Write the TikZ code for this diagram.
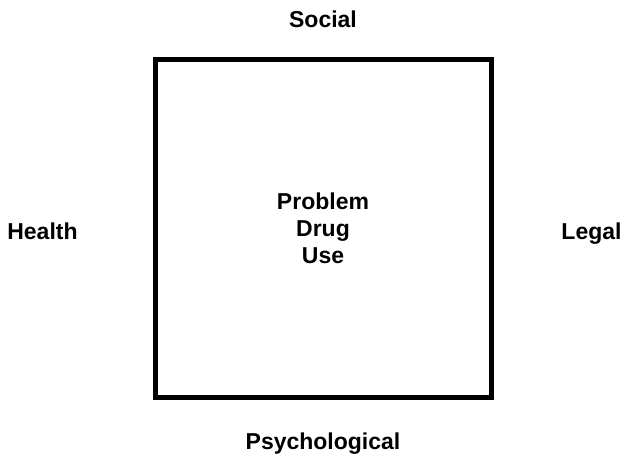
\documentclass[tikz,border=0pt]{standalone}
\usepackage{fontspec}
\setmainfont{Liberation Sans}
\usepackage{tikz}
\usetikzlibrary{positioning}

\tikzset{
  factor/.style={font=\fontsize{23}{23.5}\selectfont\bfseries, inner sep=0pt, anchor=base},
  core/.style={font=\fontsize{23}{27}\selectfont\bfseries, inner sep=0pt, align=center}
}

\begin{document}
\begin{tikzpicture}[x=1pt, y=-1pt]
  \useasboundingbox (0,0) rectangle (626,454);
  \draw[line width=5.3pt] (155.3,59.3) rectangle (491.2,397.2);
  \node[core] (problem) at (323,228.5) {Problem\\Drug\\Use};
  % surrounding factors
  \node[factor] (social) at (323,28) {Social};
  \node[factor] (health) at (42.5,240) {Health};
  \node[factor] (legal) at (591.5,240) {Legal};
  \node[factor] (psych) at (323,449) {Psychological};
\end{tikzpicture}
\end{document}
